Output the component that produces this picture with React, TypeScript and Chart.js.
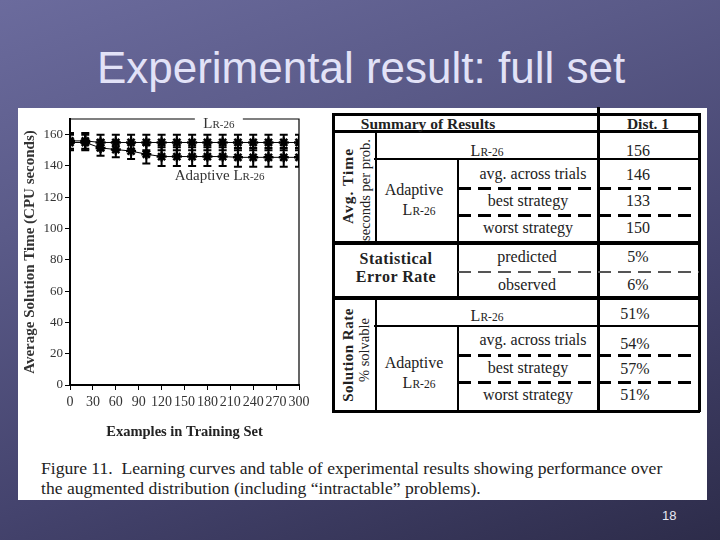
import React, { useEffect, useRef } from "react";
import { Chart, registerables } from "chart.js";

Chart.register(...registerables);

// ---------- data ----------
const EXAMPLES = [0, 20, 40, 60, 80, 100, 120, 140, 160, 180, 200, 220, 240, 260, 280, 300];
const LR26_TIME = [156, 156, 155, 155, 155, 155, 155, 155, 155, 155, 155, 155, 155, 155, 155, 155];
const LR26_ERR = [5, 5, 5, 5, 5, 5, 5, 5, 5, 5, 5, 5, 5, 5, 5, 5];
const ADAPTIVE_TIME = [155, 155, 151.5, 150.5, 149.5, 147.5, 146, 146, 146, 146, 146, 145.5, 145.5, 145.5, 145.5, 145.5];
const ADAPTIVE_ERR = [5, 5, 5, 5, 5, 6, 6, 6, 6, 6, 6, 6, 6, 6, 6, 6];
const X_TICKS = [0, 30, 60, 90, 120, 150, 180, 210, 240, 270, 300];
const Y_TICKS = [0, 20, 40, 60, 80, 100, 120, 140, 160];

const SUB_ROWS = ["avg. across trials", "best strategy", "worst strategy"];
const TIME_VALUES = ["156", "146", "133", "150"];
const ERROR_ROWS = ["predicted", "observed"];
const ERROR_VALUES = ["5%", "6%"];
const SOLUTION_VALUES = ["51%", "54%", "57%", "51%"];

const SERIF = "'Liberation Serif','Times New Roman',serif";
const SANS = "'Liberation Sans',Arial,sans-serif";

// ---------- chart plugins ----------
function drawLR(ctx: CanvasRenderingContext2D, prefix: string, cx: number, cy: number) {
  const big = `15px ${SERIF}`;
  const small = `11px ${SERIF}`;
  ctx.font = big;
  const w1 = ctx.measureText(prefix + "L").width;
  ctx.font = small;
  const w2 = ctx.measureText("R-26").width;
  const total = w1 + w2;
  const x0 = cx - total / 2;
  ctx.textBaseline = "alphabetic";
  ctx.textAlign = "left";
  ctx.fillStyle = "#333";
  ctx.font = big;
  ctx.fillText(prefix + "L", x0, cy + 5);
  ctx.font = small;
  ctx.fillText("R-26", x0 + w1, cy + 5);
  return total;
}

const figurePlugin = {
  id: "figurePlugin",
  afterDatasetsDraw(chart: any) {
    const { ctx, chartArea, scales } = chart;
    ctx.save();
    ctx.beginPath();
    ctx.rect(chartArea.left, chartArea.top - 10, chartArea.right - chartArea.left, chartArea.bottom - chartArea.top + 10);
    ctx.clip();
    ctx.strokeStyle = "#000";
    ctx.lineWidth = 2;
    chart.data.datasets.forEach((ds: any) => {
      ds.data.forEach((p: any, i: number) => {
        const e = ds.errors[i];
        const x = scales.x.getPixelForValue(p.x);
        const y1 = scales.y.getPixelForValue(p.y + e);
        const y2 = scales.y.getPixelForValue(p.y - e);
        ctx.beginPath();
        ctx.moveTo(x, y1);
        ctx.lineTo(x, y2);
        ctx.moveTo(x - 4, y1);
        ctx.lineTo(x + 4, y1);
        ctx.moveTo(x - 4, y2);
        ctx.lineTo(x + 4, y2);
        ctx.stroke();
      });
    });
    ctx.restore();
  },
  afterDraw(chart: any) {
    const { ctx, chartArea, scales } = chart;
    ctx.save();
    ctx.strokeStyle = "#000";
    ctx.lineWidth = 1.2;
    ctx.beginPath();
    ctx.moveTo(chartArea.left, chartArea.top);
    ctx.lineTo(chartArea.right, chartArea.top);
    ctx.lineTo(chartArea.right, chartArea.bottom);
    ctx.stroke();
    // LR-26 label on the top frame
    const lx = scales.x.getPixelForValue(195);
    const ly = chartArea.top + 4;
    ctx.fillStyle = "#fff";
    ctx.fillRect(lx - 24, chartArea.top - 2, 48, 4);
    drawLR(ctx, "", lx, ly);
    // Adaptive label
    const ax = scales.x.getPixelForValue(196);
    const ay = scales.y.getPixelForValue(134);
    drawLR(ctx, "Adaptive ", ax, ay);
    ctx.restore();
  },
};

// ---------- table helpers ----------
function T(props: { x: number; y: number; children: any; size?: number; bold?: boolean; rot?: boolean; ls?: number }) {
  const { x, y, children, size = 16, bold = false, rot = false, ls = 0 } = props;
  return (
    <div
      style={{
        position: "absolute",
        left: x,
        top: y,
        transform: `translate(-50%,-50%)${rot ? " rotate(-90deg)" : ""}`,
        fontFamily: SERIF,
        fontSize: size,
        fontWeight: bold ? 700 : 400,
        letterSpacing: ls,
        color: "#222",
        whiteSpace: "pre",
        lineHeight: 1,
      }}
    >
      {children}
    </div>
  );
}

function LR() {
  return (
    <span>
      L<span style={{ fontSize: "0.72em" }}>R-26</span>
    </span>
  );
}

function H(props: { x1: number; x2: number; y: number; w?: number; dash?: boolean; color?: string }) {
  const { x1, x2, y, w = 2, dash = false, color = "#000" } = props;
  return (
    <div
      style={{
        position: "absolute",
        left: x1,
        top: y - w / 2,
        width: x2 - x1,
        height: w,
        background: dash
          ? `repeating-linear-gradient(90deg, ${color} 0px, ${color} 13px, transparent 13px, transparent 20px)`
          : color,
      }}
    />
  );
}

function V(props: { x: number; y1: number; y2: number; w?: number }) {
  const { x, y1, y2, w = 2 } = props;
  return <div style={{ position: "absolute", left: x - w / 2, top: y1, width: w, height: y2 - y1, background: "#000" }} />;
}

const VAL_X = 638;
const SUB_X = 528;

export default function App() {
  const ref = useRef<HTMLCanvasElement>(null);

  useEffect(() => {
    const tickFont = { family: SERIF, size: 13 };
    const chart = new Chart(ref.current as HTMLCanvasElement, {
      type: "line",
      data: {
        datasets: [
          {
            label: "LR-26",
            data: EXAMPLES.map((x, i) => ({ x, y: LR26_TIME[i] })),
            errors: LR26_ERR,
            borderColor: "#000",
            borderWidth: 1,
            pointStyle: "star",
            pointRadius: 5,
            pointBorderWidth: 2.5,
            pointBorderColor: "#000",
            pointBackgroundColor: "#000",
            clip: 0,
          } as any,
          {
            label: "Adaptive LR-26",
            data: EXAMPLES.map((x, i) => ({ x, y: ADAPTIVE_TIME[i] })),
            errors: ADAPTIVE_ERR,
            borderColor: "#000",
            borderWidth: 1,
            pointStyle: "star",
            pointRadius: 5,
            pointBorderWidth: 2.5,
            pointBorderColor: "#000",
            pointBackgroundColor: "#000",
            clip: 0,
          } as any,
        ],
      },
      options: {
        responsive: false,
        animation: false,
        devicePixelRatio: 1,
        layout: { padding: { top: 11, right: 31, bottom: 0, left: 0 } },
        plugins: { legend: { display: false }, tooltip: { enabled: false } },
        scales: {
          x: {
            type: "linear",
            min: 0,
            max: 300,
            afterBuildTicks: (s: any) => {
              s.ticks = X_TICKS.map((v) => ({ value: v }));
            },
            afterFit: (s: any) => {
              s.height = 63;
            },
            ticks: {
              autoSkip: false,
              maxRotation: 0,
              minRotation: 0,
              padding: 4,
              color: "#333",
              font: { family: SERIF, size: 14 },
            },
            grid: { drawOnChartArea: false, drawTicks: true, tickLength: 5, color: "#000", lineWidth: 1 },
            border: { display: true, color: "#000", width: 2 },
            title: {
              display: true,
              text: "Examples in Training Set",
              color: "#222",
              font: { family: SERIF, size: 14.5, weight: "bold" },
              padding: { top: 0, bottom: 7.5 },
            },
          },
          y: {
            type: "linear",
            min: 0,
            max: 170,
            afterBuildTicks: (s: any) => {
              s.ticks = Y_TICKS.map((v) => ({ value: v }));
            },
            afterFit: (s: any) => {
              s.width = 52;
            },
            ticks: { padding: 2, color: "#333", font: tickFont },
            grid: { drawOnChartArea: false, drawTicks: true, tickLength: 5, color: "#000", lineWidth: 1 },
            border: { display: true, color: "#000", width: 2 },
            title: {
              display: true,
              text: "Average Solution Time (CPU seconds)",
              color: "#333",
              font: { family: SERIF, size: 15, weight: "bold" },
              padding: { top: 3, bottom: 0 },
            },
          },
        },
      },
      plugins: [figurePlugin],
    } as any);
    return () => chart.destroy();
  }, []);

  return (
    <div
      style={{
        position: "fixed",
        left: 0,
        top: 0,
        width: 720,
        height: 540,
        overflow: "hidden",
        background: "linear-gradient(160deg, #6b6b9d 0%, #5a5a88 30%, #44436d 65%, #2d2c4a 100%)",
      }}
    >
      <div
        style={{
          position: "absolute",
          left: 0,
          top: 46,
          width: 722,
          textAlign: "center",
          fontFamily: SANS,
          fontSize: 44,
          lineHeight: "44px",
          color: "#e2e2f7",
          whiteSpace: "pre",
        }}
      >
        Experimental result: full set
      </div>

      <div style={{ position: "absolute", left: 18, top: 108, width: 689, height: 392, background: "#fff" }} />

      <canvas ref={ref} width={312} height={340} style={{ position: "absolute", left: 18, top: 108, width: 312, height: 340 }} />

      {/* table lines */}
      <V x={598} y1={107} y2={412} w={3} />
      <H x1={332} x2={700} y={114} w={3} />
      <H x1={332} x2={700} y={411} w={3} />
      <V x={333} y1={113} y2={412} w={3} />
      <V x={699} y1={113} y2={412} w={3} />
      <H x1={333} x2={699} y={131} w={3} />
      <V x={376} y1={131} y2={243} w={2} />
      <V x={376} y1={298} y2={411} w={2} />
      <V x={458} y1={159} y2={298} w={2} />
      <V x={458} y1={326} y2={411} w={2} />
      <H x1={374} x2={699} y={159} w={2} />
      <H x1={374} x2={699} y={326} w={2} />
      <H x1={333} x2={699} y={243} w={4} />
      <H x1={333} x2={699} y={298} w={4} />
      <H x1={458} x2={699} y={188} w={3} dash />
      <H x1={458} x2={699} y={215} w={3} dash />
      <H x1={458} x2={699} y={272} w={1.5} dash color="#555" />
      <H x1={458} x2={699} y={355} w={3} dash />
      <H x1={458} x2={699} y={382} w={3} dash />

      {/* header */}
      <T x={428} y={124} bold size={15.5}>Summary of Results</T>
      <T x={648} y={124} bold size={15.5}>Dist. 1</T>

      {/* avg time section */}
      <div style={{ position: "absolute", left: 334, top: 132, width: 41, height: 110, overflow: "hidden" }}>
        <T x={14} y={54} bold rot size={15.5} ls={1}>Avg. Time</T>
        <T x={31} y={58} rot size={14.5}>seconds per prob.</T>
      </div>
      <T x={487} y={151}><LR /></T>
      <T x={VAL_X} y={151}>{TIME_VALUES[0]}</T>
      <T x={414} y={190}>Adaptive</T>
      <T x={419} y={210}><LR /></T>
      <T x={SUB_X + 5} y={174}>{SUB_ROWS[0]}</T>
      <T x={SUB_X} y={201}>{SUB_ROWS[1]}</T>
      <T x={SUB_X} y={228}>{SUB_ROWS[2]}</T>
      <T x={VAL_X} y={175}>{TIME_VALUES[1]}</T>
      <T x={VAL_X} y={201}>{TIME_VALUES[2]}</T>
      <T x={VAL_X} y={228}>{TIME_VALUES[3]}</T>

      {/* error rate section */}
      <T x={396} y={259} bold ls={0.5}>Statistical</T>
      <T x={396} y={277} bold ls={0.5}>Error Rate</T>
      <T x={527} y={257}>{ERROR_ROWS[0]}</T>
      <T x={527} y={285}>{ERROR_ROWS[1]}</T>
      <T x={VAL_X} y={257}>{ERROR_VALUES[0]}</T>
      <T x={VAL_X} y={285}>{ERROR_VALUES[1]}</T>

      {/* solution rate section */}
      <div style={{ position: "absolute", left: 334, top: 300, width: 41, height: 110, overflow: "hidden" }}>
        <T x={14} y={55} bold rot size={15} ls={0.5}>Solution Rate</T>
        <T x={30} y={50} rot size={14.5}>% solvable</T>
      </div>
      <T x={487} y={316}><LR /></T>
      <T x={VAL_X - 3} y={314}>{SOLUTION_VALUES[0]}</T>
      <T x={414} y={363}>Adaptive</T>
      <T x={419} y={383}><LR /></T>
      <T x={SUB_X + 5} y={340}>{SUB_ROWS[0]}</T>
      <T x={SUB_X} y={368}>{SUB_ROWS[1]}</T>
      <T x={SUB_X} y={395}>{SUB_ROWS[2]}</T>
      <T x={VAL_X - 3} y={344}>{SOLUTION_VALUES[1]}</T>
      <T x={VAL_X - 3} y={369}>{SOLUTION_VALUES[2]}</T>
      <T x={VAL_X - 3} y={395}>{SOLUTION_VALUES[3]}</T>

      {/* caption */}
      <div
        style={{
          position: "absolute",
          left: 41,
          top: 458,
          fontFamily: SERIF,
          fontSize: 17.6,
          lineHeight: "20px",
          color: "#222",
          whiteSpace: "pre",
        }}
      >
        {"Figure 11.  Learning curves and table of experimental results showing performance over\nthe augmented distribution (including \u201cintractable\u201d problems)."}
      </div>

      <div style={{ position: "absolute", left: 662, top: 508, fontFamily: SANS, fontSize: 13, color: "#e8e8f2" }}>18</div>
    </div>
  );
}
